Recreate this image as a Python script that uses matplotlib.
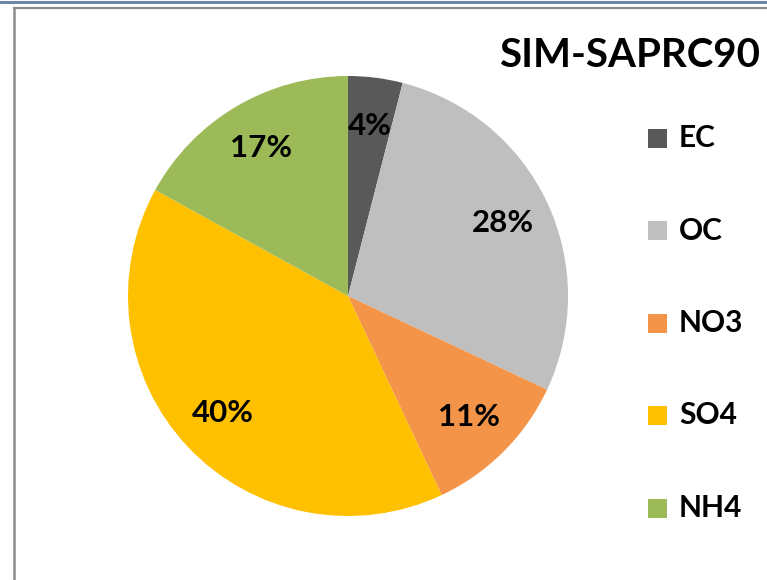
import matplotlib
matplotlib.use("Agg")
import matplotlib.pyplot as plt
from matplotlib.patches import Rectangle
from matplotlib.lines import Line2D

# Aerosol composition shares (%)
categories = ["EC", "OC", "NO3", "SO4", "NH4"]
shares = [4, 28, 11, 40, 17]
colors = ["#595959", "#BFBFBF", "#F39448", "#FFC000", "#9CBB58"]
title = "SIM-SAPRC90"

FONT = "Lato"

W, H = 767, 580
fig = plt.figure(figsize=(W / 100, H / 100), dpi=100)
fig.patch.set_facecolor("white")

def fx(px):
    return px / W

def fy(py):
    return 1 - py / H

# window edge and chart frame
fig.add_artist(Line2D([0, 1], [fy(1.5), fy(1.5)], color="#6F86A8", lw=2.2))
fig.add_artist(Line2D([fx(14), 1], [fy(7.5), fy(7.5)], color="#8C8C8C", lw=1.6))
fig.add_artist(Line2D([fx(14), fx(14)], [fy(7.5), 0], color="#8C8C8C", lw=1.8))

# pie
cx, cy, r = 348, 296, 220
ax = fig.add_axes([fx(cx - r), fy(cy + r), 2 * r / W, 2 * r / H])
wedges, texts, autotexts = ax.pie(
    shares, colors=colors, startangle=90, counterclock=False,
    autopct=lambda p: f"{p:.0f}%", pctdistance=0.78, radius=1,
    wedgeprops=dict(linewidth=0),
    textprops=dict(fontsize=22.5, fontweight="bold", family=FONT, color="black"),
)
ax.set_xlim(-1, 1)
ax.set_ylim(-1, 1)
ax.set_aspect("auto")
ax.axis("off")

# title
fig.text(fx(499), fy(67), title, fontsize=29, fontweight="bold", family=FONT,
         ha="left", va="baseline", color="black")

# legend
y0, dy = 138, 92.5
for i, (name, col) in enumerate(zip(categories, colors)):
    yc = y0 + i * dy
    fig.add_artist(Rectangle((fx(648), fy(yc + 9.5)), 19 / W, 19 / H,
                             facecolor=col, edgecolor="none",
                             transform=fig.transFigure))
    fig.text(fx(679), fy(yc), name, fontsize=21.5, fontweight="bold", family=FONT,
             ha="left", va="center", color="black")

fig.savefig("out.png", dpi=100)
